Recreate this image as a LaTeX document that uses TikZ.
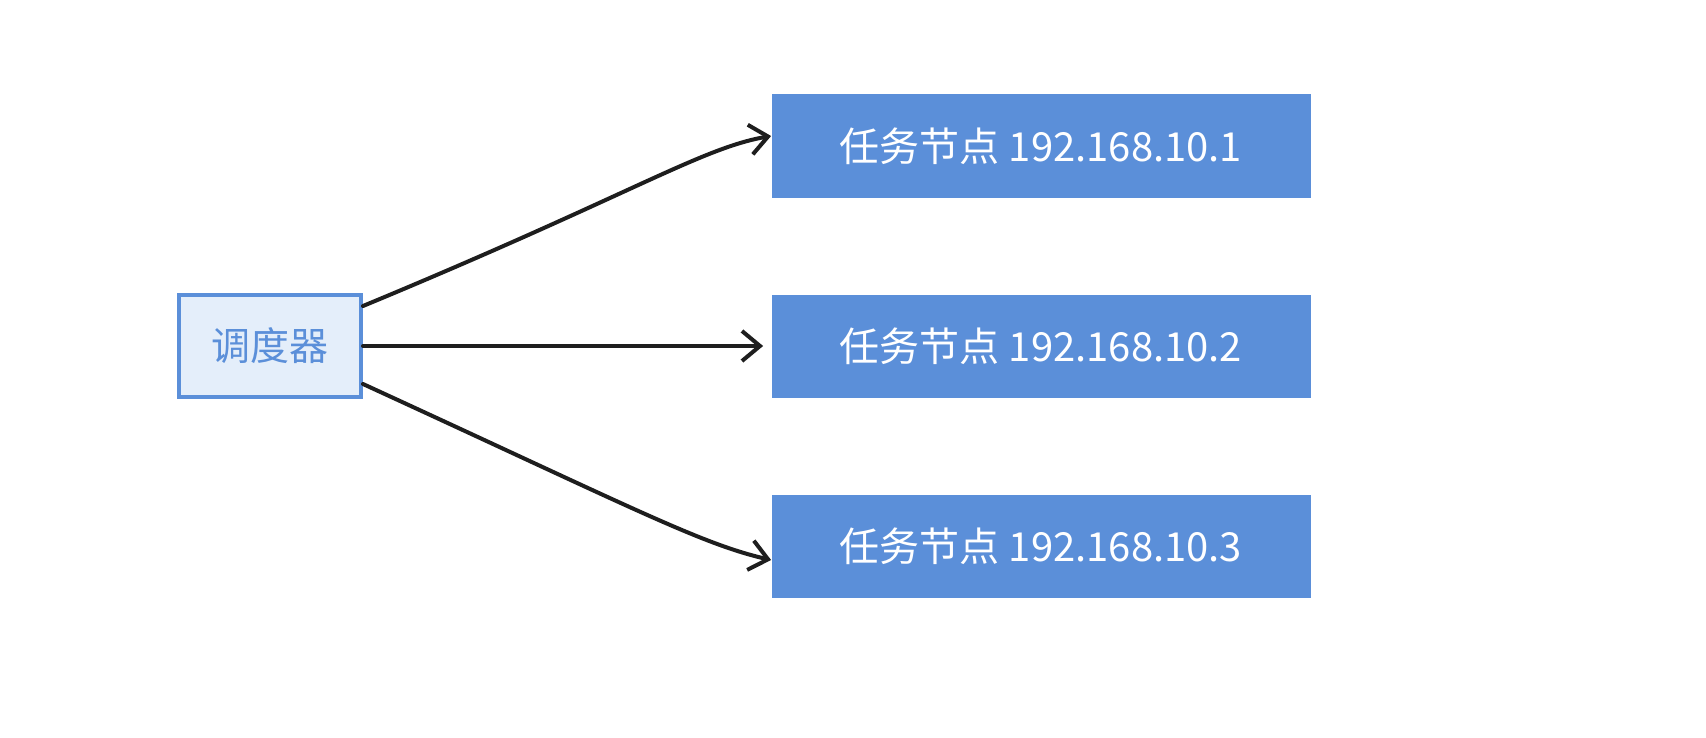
\documentclass[tikz,border=0pt]{standalone}
\usepackage{fontspec}
\setmainfont{Noto Sans CJK SC}
\usetikzlibrary{arrows.meta}
\definecolor{schedblue}{HTML}{5B8FD9}
\definecolor{schedfill}{HTML}{E4EEFA}
\definecolor{taskblue}{HTML}{5B8FD9}
\definecolor{arrowblack}{HTML}{1E1E1E}

\begin{document}
\begin{tikzpicture}[x=0.5pt,y=-0.5pt,
  schedbox/.style={draw=schedblue,line width=2pt,fill=schedfill,text=schedblue,
    minimum width=91pt,minimum height=51pt,inner sep=0pt,font=\fontsize{19.5}{22}\selectfont},
  taskbox/.style={fill=taskblue,text=white,minimum width=269.5pt,minimum height=51.5pt,
    inner sep=0pt,font=\fontsize{20}{24}\selectfont},
  link/.style={draw=arrowblack,line width=2pt,line cap=round,
    -{Straight Barb[length=9pt,width=15pt,line width=2pt]}}]
\useasboundingbox (0,0) rectangle (1706,738);
% scheduler and the three task nodes
\node[schedbox] (sched) at (270,346) {调度器};
\node[taskbox] (task1) at (1041,146) {任务节点 192.168.10.1};
\node[taskbox] (task2) at (1041,346) {任务节点 192.168.10.2};
\node[taskbox] (task3) at (1041,546) {任务节点 192.168.10.3};
% dispatch arrows
\draw[link] ([yshift=20pt]sched.east) .. controls +(270,-112) and +(-70,12) .. ([yshift=5pt]task1.west);
\draw[link] (sched.east) -- ([xshift=-4pt]task2.west);
\draw[link] ([yshift=-19pt]sched.east) .. controls +(270,124) and +(-70,-16) .. ([yshift=-7pt]task3.west);
\end{tikzpicture}
\end{document}
